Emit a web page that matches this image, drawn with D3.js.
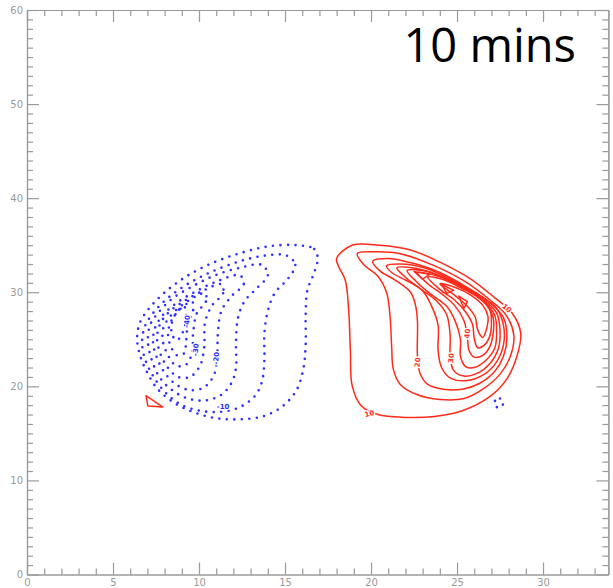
<!DOCTYPE html>
<html>
<head>
<meta charset="utf-8">
<script src="https://cdn.jsdelivr.net/npm/d3@7"></script>
<style>
  html, body { margin: 0; padding: 0; background: #fff; }
  svg { display: block; }
</style>
</head>
<body>
<script>
// Axis ranges and tick values
const xDomain = [0, 33.8];
const yDomain = [0, 60];
const xMajorTicks = [0, 5, 10, 15, 20, 25, 30];
const yMajorTicks = [0, 10, 20, 30, 40, 50, 60];
const titleText = "10 mins";

// Positive (red, solid) contour rings, outer to inner, [x, y]
const red10 = [[18.0,33.6],[18.9,35.0],[20.5,35.0],[22.3,34.5],[24.0,33.2],[25.8,31.4],[27.2,29.4],[28.2,27.8],[28.7,25.7],[28.5,23.3],[27.9,20.8],[26.9,18.9],[25.3,17.4],[23.7,16.8],[21.98,16.7],[20.4,17.0],[19.4,18.0],[18.9,20.1],[18.8,23.8],[18.7,28.1],[18.5,31.3],[18.1,32.8]];
const red15 = [[19.2,34.1],[20.1,34.3],[21.7,34.1],[23.7,32.8],[25.5,31.1],[26.9,29.2],[27.8,27.7],[28.3,25.5],[28.1,23.2],[27.5,21.3],[26.5,19.7],[25.4,18.7],[24.0,18.6],[22.7,19.1],[21.7,20.2],[21.3,21.8],[21.2,24.2],[21.1,27.6],[20.9,30.0],[20.4,31.7],[19.6,32.9]];
const red20 = [[20.1,33.3],[21.0,33.6],[22.4,33.1],[24.0,32.1],[25.6,30.5],[26.9,28.9],[27.7,27.3],[27.9,25.2],[27.7,23.2],[27.2,21.6],[26.3,20.3],[25.3,19.7],[24.2,19.7],[23.3,20.2],[22.85,21.4],[22.7,23.2],[22.7,26.9],[22.6,28.5],[22.3,30.0],[21.4,31.3],[20.5,32.3]];
const red25 = [[20.9,32.8],[21.7,33.0],[23.1,32.6],[24.7,31.3],[26.2,29.8],[27.3,28.3],[27.7,26.5],[27.7,24.4],[27.3,22.6],[26.6,21.3],[25.5,20.6],[24.6,20.9],[24.1,22.0],[23.9,23.8],[23.9,26.5],[23.5,28.6],[22.98,30.2],[22.0,31.3],[21.2,32.1]];
const red30 = [[21.5,32.6],[22.4,32.6],[23.5,32.1],[25.1,30.8],[26.5,29.3],[27.3,27.8],[27.5,25.9],[27.4,24.0],[26.9,22.4],[26.2,21.4],[25.4,21.1],[24.8,21.7],[24.6,23.3],[24.6,25.4],[24.4,27.6],[23.8,29.1],[22.85,30.4],[22.0,31.6]];
const red35 = [[22.1,32.3],[23.0,32.3],[24.0,31.7],[25.4,30.4],[26.6,29.0],[27.2,27.5],[27.3,25.7],[27.2,24.1],[26.7,22.8],[26.0,22.0],[25.5,22.1],[25.2,23.2],[25.2,25.0],[24.9,26.9],[24.4,28.5],[23.4,29.9],[22.6,31.2]];
const red40 = [[22.7,32.1],[23.5,31.9],[24.6,31.2],[25.8,30.0],[26.7,28.7],[27.1,27.3],[27.1,25.6],[26.9,24.2],[26.5,23.3],[26.0,23.1],[25.7,23.8],[25.6,25.4],[25.4,27.0],[24.9,28.5],[24.2,29.7],[23.3,30.9]];
const red45 = [[23.3,31.6],[24.1,31.4],[25.2,30.5],[26.2,29.5],[26.9,28.2],[27.0,26.8],[26.9,25.3],[26.6,24.4],[26.2,24.1],[26.0,25.1],[25.9,26.6],[25.5,27.9],[24.9,29.1],[24.0,30.3]];
const red50 = [[24.0,30.9],[24.9,30.5],[25.8,29.7],[26.5,28.6],[26.8,27.4],[26.7,26.0],[26.5,25.2],[26.2,26.0],[26.05,27.4],[25.5,28.7],[24.7,29.9]];
// small closed peaks along the steep band and the lone cell at the left
const redPeakA = [[22.5,32.2],[23.4,31.9],[23.0,31.4]];
const redPeakB = [[24.1,30.85],[24.8,30.2],[24.4,29.9]];
const redPeakC = [[25.1,29.6],[25.6,29.0],[25.4,28.3]];
const redCellLeft = [[6.92,19.0],[7.03,17.9],[7.9,17.8]];

// Negative (blue, dotted) contour rings, outer to inner
const blue10 = [[15.7,35.0],[16.7,34.6],[16.9,33.6],[16.7,32.1],[16.3,30.2],[16.2,27.55],[16.2,24.4],[16.05,21.7],[15.64,19.5],[14.8,17.8],[13.7,16.8],[12.4,16.5],[11.05,16.6],[9.77,17.2],[8.6,18.2],[7.6,19.7],[6.98,21.5],[6.57,23.3],[6.4,25.1],[6.57,26.8],[7.15,28.4],[8.02,30.0],[9.19,31.6],[10.64,33.0],[12.38,34.15],[14.13,34.9]];
const blue15 = [[15.1,33.9],[15.6,32.9],[15.2,31.5],[14.4,29.9],[14.0,28.0],[13.8,25.6],[13.8,22.8],[13.66,20.5],[13.26,19.0],[12.38,17.8],[11.3,17.3],[10.06,17.4],[8.9,18.1],[8.02,19.4],[7.33,21.1],[6.86,22.9],[6.69,24.7],[6.86,26.4],[7.38,27.9],[8.2,29.4],[9.36,30.9],[10.76,32.2],[12.38,33.3],[13.84,33.9]];
const blue20 = [[13.66,32.9],[14.0,31.8],[13.4,30.5],[12.67,29.1],[12.27,27.3],[12.15,24.6],[12.15,22.0],[11.9,20.4],[11.3,19.1],[10.35,18.5],[9.36,18.7],[8.43,19.6],[7.73,20.9],[7.27,22.7],[7.03,24.7],[7.15,26.5],[7.62,27.8],[8.43,29.3],[9.6,30.6],[10.93,31.8],[12.38,32.6]];
const blue25 = [[12.38,31.8],[12.6,30.85],[11.9,29.6],[11.3,28.0],[11.1,25.7],[11.05,23.0],[10.87,21.2],[10.3,19.9],[9.48,19.6],[8.66,20.2],[8.02,21.4],[7.56,23.0],[7.33,24.6],[7.44,26.2],[7.91,27.6],[8.72,28.9],[9.83,30.1],[11.1,31.2]];
const blue30 = [[11.3,30.85],[11.4,29.9],[10.76,28.6],[10.35,26.8],[10.3,24.15],[10.06,22.2],[9.48,21.0],[8.78,21.0],[8.14,22.1],[7.73,23.6],[7.56,25.1],[7.73,26.6],[8.2,27.8],[9.0,28.9],[10.17,30.1]];
const blue35 = [[10.35,29.9],[10.4,29.0],[9.88,27.8],[9.66,25.7],[9.6,23.6],[9.25,22.3],[8.66,22.2],[8.2,23.3],[7.91,24.7],[7.91,26.1],[8.31,27.4],[9.07,28.7]];
const blue40 = [[9.6,29.0],[9.66,28.1],[9.36,26.7],[9.25,24.8],[9.13,23.5],[8.72,23.3],[8.37,24.2],[8.2,25.5],[8.37,26.9],[8.9,28.2]];
const blue45 = [[9.13,28.5],[9.25,27.3],[9.07,25.8],[8.72,24.9],[8.43,25.5],[8.43,26.8],[8.72,27.9]];
const blueCellRight = [[27.15,18.3],[27.5,18.7],[27.7,18.2],[27.4,17.7]];

// Contour labels: [x, y, text, rotation]
const redLabels = [[19.9,17.1,"10",-15],[27.9,28.3,"10",40],[22.7,22.55,"20",-85],[24.65,23.0,"30",-85],[25.6,25.6,"40",-85]];
const blueLabels = [[11.4,17.9,"-10",0],[11.0,23.0,"-20",-85],[9.8,23.9,"-30",-85],[9.3,26.9,"-40",-85]];

const redRings = [red10, red15, red20, red25, red30, red35, red40, red45, red50];
const redPeaks = [redPeakA, redPeakB, redPeakC, redCellLeft];
const blueRings = [blue10, blue15, blue20, blue25, blue30, blue35, blue40, blue45, blueCellRight];

const W = 613, H = 588;
const svg = d3.select("body").append("svg").attr("width", W).attr("height", H);

const x = d3.scaleLinear().domain(xDomain).range([27, 608.4]);
const y = d3.scaleLinear().domain(yDomain).range([574.5, 10]);

const smooth = d3.line().x(d => x(d[0])).y(d => y(d[1])).curve(d3.curveCatmullRomClosed.alpha(0.5));
const sharp = d3.line().x(d => x(d[0])).y(d => y(d[1])).curve(d3.curveLinearClosed);

const RED = "#ff2a1a", BLUE = "#2f2fff", AXIS = "#9a9a9a";

// Blue dotted contours
svg.append("g").selectAll("path").data(blueRings).join("path")
  .attr("d", smooth)
  .attr("fill", "none").attr("stroke", BLUE)
  .attr("stroke-width", 2.6).attr("stroke-linecap", "round")
  .attr("stroke-dasharray", "0 7.5");

// Red solid contours
svg.append("g").selectAll("path").data(redRings).join("path")
  .attr("d", smooth)
  .attr("fill", "none").attr("stroke", RED).attr("stroke-width", 1.5);
svg.append("g").selectAll("path").data(redPeaks).join("path")
  .attr("d", sharp)
  .attr("fill", "none").attr("stroke", RED).attr("stroke-width", 1.5)
  .attr("stroke-linejoin", "round");

// Contour labels
function drawLabels(data, color) {
  svg.append("g").selectAll("text").data(data).join("text")
    .attr("transform", d => `translate(${x(d[0])},${y(d[1])}) rotate(${d[3]})`)
    .attr("text-anchor", "middle").attr("dy", "0.35em")
    .attr("font-family", "DejaVu Sans, sans-serif").attr("font-size", 7)
    .attr("font-weight", "bold")
    .attr("fill", color)
    .attr("stroke", "#fff").attr("stroke-width", 2.5).attr("paint-order", "stroke")
    .text(d => d[2]);
}
drawLabels(redLabels, RED);
drawLabels(blueLabels, BLUE);

// Box axes with inward ticks on all four sides
const xMinor = d3.range(0, 34, 1).filter(v => !xMajorTicks.includes(v));
const yMinor = d3.range(0, 61, 1).filter(v => !yMajorTicks.includes(v));

function styleAxis(g) {
  g.selectAll(".domain").attr("stroke", AXIS).attr("stroke-width", 1.2);
  g.selectAll(".tick line").attr("stroke", AXIS).attr("stroke-width", 1.2);
  g.selectAll("text").attr("fill", AXIS).attr("font-family", "DejaVu Sans, sans-serif").attr("font-size", 10);
}

// bottom
svg.append("g").attr("transform", `translate(0,${y(0)})`)
  .call(d3.axisBottom(x).tickValues(xMajorTicks).tickSize(-12).tickSizeOuter(0).tickPadding(4).tickFormat(d3.format("d")))
  .call(styleAxis);
svg.append("g").attr("transform", `translate(0,${y(0)})`)
  .call(d3.axisBottom(x).tickValues(xMinor).tickSize(-6).tickSizeOuter(0).tickFormat(""))
  .call(styleAxis);
// top
svg.append("g").attr("transform", `translate(0,${y(60)})`)
  .call(d3.axisTop(x).tickValues(xMajorTicks).tickSize(-12).tickSizeOuter(0).tickFormat(""))
  .call(styleAxis);
svg.append("g").attr("transform", `translate(0,${y(60)})`)
  .call(d3.axisTop(x).tickValues(xMinor).tickSize(-6).tickSizeOuter(0).tickFormat(""))
  .call(styleAxis);
// left
svg.append("g").attr("transform", `translate(${x(0)},0)`)
  .call(d3.axisLeft(y).tickValues(yMajorTicks).tickSize(-12).tickSizeOuter(0).tickPadding(4).tickFormat(d3.format("d")))
  .call(styleAxis);
svg.append("g").attr("transform", `translate(${x(0)},0)`)
  .call(d3.axisLeft(y).tickValues(yMinor).tickSize(-6).tickSizeOuter(0).tickFormat(""))
  .call(styleAxis);
// right
svg.append("g").attr("transform", `translate(${x(xDomain[1])},0)`)
  .call(d3.axisRight(y).tickValues(yMajorTicks).tickSize(-12).tickSizeOuter(0).tickFormat(""))
  .call(styleAxis);
svg.append("g").attr("transform", `translate(${x(xDomain[1])},0)`)
  .call(d3.axisRight(y).tickValues(yMinor).tickSize(-6).tickSizeOuter(0).tickFormat(""))
  .call(styleAxis);

// Time stamp
svg.append("text")
  .attr("x", 576).attr("y", 62)
  .attr("text-anchor", "end")
  .attr("font-family", "Open Sans, sans-serif").attr("font-size", 47)
  .attr("fill", "#000")
  .text(titleText);
</script>
</body>
</html>
